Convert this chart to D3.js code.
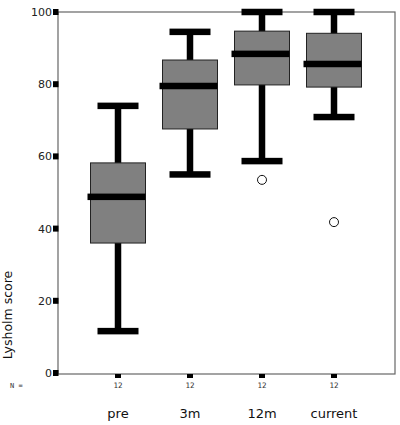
<!DOCTYPE html>
<html>
<head>
<meta charset="utf-8">
<script src="https://cdn.jsdelivr.net/npm/d3@7"></script>
<style>
  body { margin: 0; background: #fff; }
  svg { display: block; }
</style>
</head>
<body>
<div id="chart"></div>
<script>
const categories = ["pre", "3m", "12m", "current"];
const q1 = [36, 67.6, 79.8, 79.2];
const medians = [48.8, 79.5, 88.4, 85.6];
const q3 = [58.2, 86.7, 94.7, 94.1];
const whiskerLow = [11.6, 55, 58.7, 70.9];
const whiskerHigh = [74, 94.5, 100, 100];
const outliers = [[], [], [53.5], [41.8]];
const counts = [12, 12, 12, 12];
const yTicks = [0, 20, 40, 60, 80, 100];

const width = 400, height = 425;
const plot = { left: 58, right: 395, top: 12, bottom: 373 };

const data = categories.map((c, i) => ({
    cat: c, q1: q1[i], med: medians[i], q3: q3[i],
    lo: whiskerLow[i], hi: whiskerHigh[i], out: outliers[i], n: counts[i]
}));

const svg = d3.select("#chart").append("svg")
    .attr("width", width)
    .attr("height", height);

const x = d3.scaleBand()
    .domain(categories)
    .range([82, 370]);

const y = d3.scaleLinear()
    .domain([0, 100])
    .range([plot.bottom, plot.top]);

const cx = d => x(d) + x.bandwidth() / 2;
const boxW = 55, capW = 41, thick = 6.5;

// frame
svg.append("rect")
    .attr("x", plot.left)
    .attr("y", plot.top)
    .attr("width", plot.right - plot.left)
    .attr("height", plot.bottom - plot.top + 1)
    .attr("fill", "none")
    .attr("stroke", "#666")
    .attr("stroke-width", 1.2);

// y axis ticks
const yAxis = svg.append("g").attr("class", "y-axis");
yAxis.selectAll("rect")
    .data(yTicks)
    .join("rect")
    .attr("x", 53)
    .attr("y", d => y(d) - 3)
    .attr("width", 5.5)
    .attr("height", 6)
    .attr("fill", "#000");
yAxis.selectAll("text")
    .data(yTicks)
    .join("text")
    .attr("x", 52)
    .attr("y", d => y(d))
    .attr("dy", "0.36em")
    .attr("text-anchor", "end")
    .style("font-family", "DejaVu Sans, Verdana, sans-serif")
    .style("font-size", "11px")
    .style("fill", "#222")
    .text(d => d);

// y axis title
svg.append("text")
    .attr("transform", "translate(12,315) rotate(-90)")
    .attr("text-anchor", "middle")
    .style("font-family", "DejaVu Sans, Verdana, sans-serif")
    .style("font-size", "12.5px")
    .style("fill", "#111")
    .text("Lysholm score");

// category ticks below axis
svg.append("g")
    .selectAll("rect")
    .data(categories)
    .join("rect")
    .attr("x", d => cx(d) - 3)
    .attr("y", plot.bottom + 1)
    .attr("width", 6)
    .attr("height", 4)
    .attr("fill", "#000");

// N labels
svg.append("text")
    .attr("x", 10)
    .attr("y", 388)
    .style("font-family", "DejaVu Sans Mono, monospace")
    .style("font-size", "7px")
    .style("fill", "#333")
    .text("N =");
svg.append("g")
    .selectAll("text")
    .data(data)
    .join("text")
    .attr("x", d => cx(d.cat))
    .attr("y", 388)
    .attr("text-anchor", "middle")
    .style("font-family", "DejaVu Sans Mono, monospace")
    .style("font-size", "7.5px")
    .style("fill", "#333")
    .text(d => d.n);

// category labels
svg.append("g")
    .selectAll("text")
    .data(categories)
    .join("text")
    .attr("x", d => cx(d))
    .attr("y", 418)
    .attr("text-anchor", "middle")
    .style("font-family", "DejaVu Sans, Verdana, sans-serif")
    .style("font-size", "13px")
    .style("fill", "#111")
    .text(d => d);

// boxes
const g = svg.append("g")
    .selectAll("g")
    .data(data)
    .join("g");

// whisker stems
g.append("rect")
    .attr("x", d => cx(d.cat) - thick / 2)
    .attr("y", d => y(d.hi))
    .attr("width", thick)
    .attr("height", d => y(d.lo) - y(d.hi))
    .attr("fill", "#000");

// caps
g.selectAll(".cap")
    .data(d => [d.lo, d.hi].map(v => ({ cat: d.cat, v })))
    .join("rect")
    .attr("class", "cap")
    .attr("x", d => cx(d.cat) - capW / 2)
    .attr("y", d => y(d.v) - thick / 2)
    .attr("width", capW)
    .attr("height", thick)
    .attr("fill", "#000");

// box
g.append("rect")
    .attr("x", d => cx(d.cat) - boxW / 2)
    .attr("y", d => y(d.q3))
    .attr("width", boxW)
    .attr("height", d => y(d.q1) - y(d.q3))
    .attr("fill", "#808080")
    .attr("stroke", "#222")
    .attr("stroke-width", 1);

// median
g.append("rect")
    .attr("x", d => cx(d.cat) - boxW / 2 - 3)
    .attr("y", d => y(d.med) - thick / 2)
    .attr("width", boxW + 3)
    .attr("height", thick)
    .attr("fill", "#000");

// outliers
g.selectAll(".out")
    .data(d => d.out.map(v => ({ cat: d.cat, v })))
    .join("circle")
    .attr("class", "out")
    .attr("cx", d => cx(d.cat))
    .attr("cy", d => y(d.v))
    .attr("r", 4.5)
    .attr("fill", "#fff")
    .attr("stroke", "#111")
    .attr("stroke-width", 1);
</script>
</body>
</html>
